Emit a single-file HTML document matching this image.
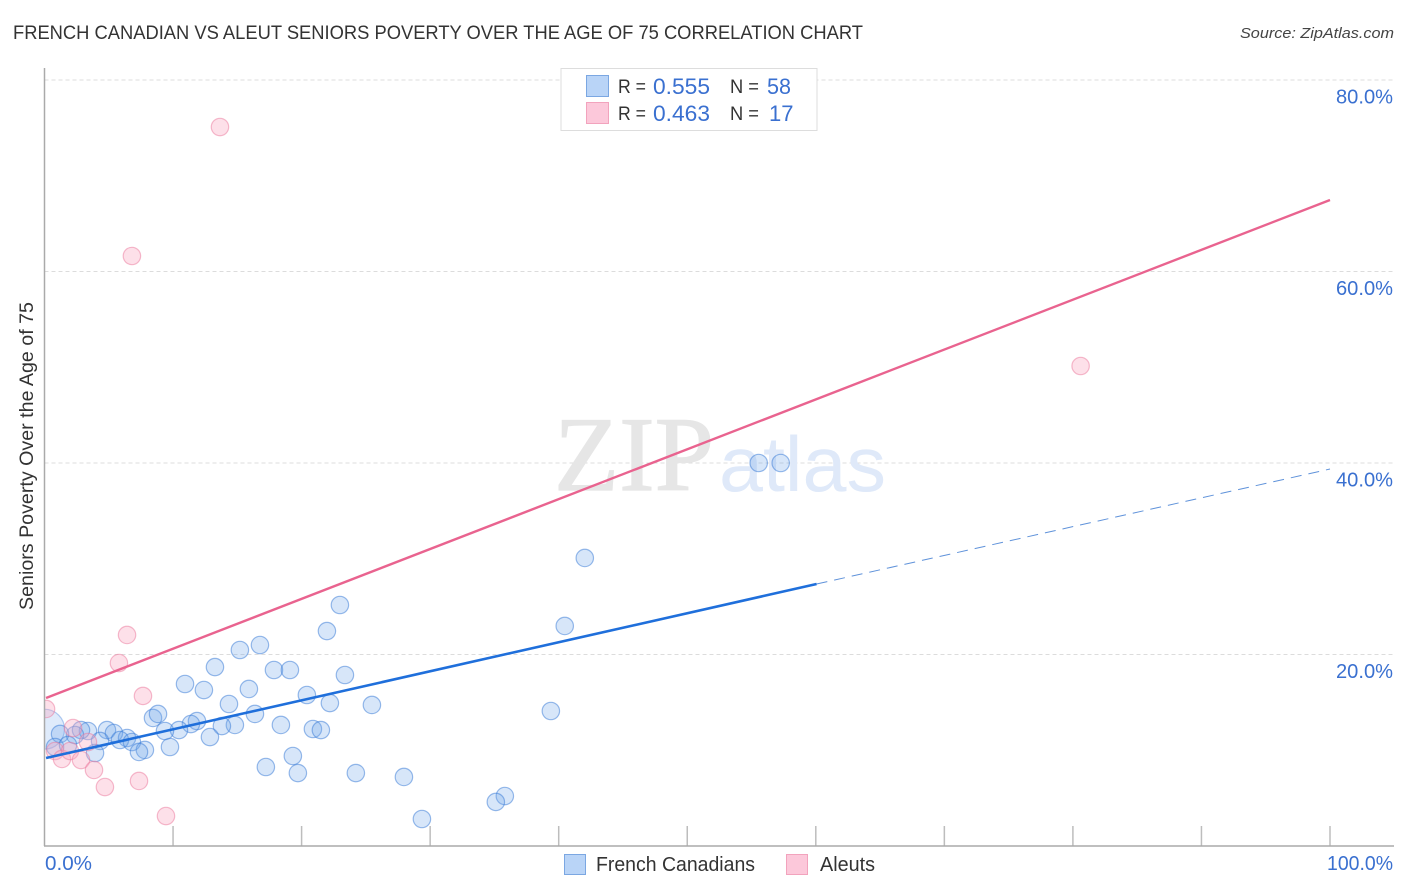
<!DOCTYPE html>
<html lang="en">
<head>
<meta charset="utf-8">
<title>French Canadian vs Aleut Seniors Poverty Over the Age of 75 Correlation Chart</title>
<style>
  html, body { margin: 0; padding: 0; background: #fff; }
  body { width: 1406px; height: 892px; overflow: hidden; }
  svg { display: block; font-family: "Liberation Sans", sans-serif; }
</style>
</head>
<body>
<svg id="chart" xmlns="http://www.w3.org/2000/svg" width="1406" height="892" viewBox="0 0 1406 892">
  <defs>
    <clipPath id="plot-clip"><rect x="44.5" y="60" width="1350" height="786"/></clipPath>
  </defs>
  <rect x="0" y="0" width="1406" height="892" fill="#ffffff"/>
  <text x="13" y="39" font-size="19" fill="#333" textLength="850" lengthAdjust="spacingAndGlyphs">FRENCH CANADIAN VS ALEUT SENIORS POVERTY OVER THE AGE OF 75 CORRELATION CHART</text>
  <text x="1394" y="38" font-size="15" font-style="italic" fill="#444" text-anchor="end" textLength="154" lengthAdjust="spacingAndGlyphs">Source: ZipAtlas.com</text>
  <g id="grid"></g>
  <g>
    <text x="554" y="490" font-family="'Liberation Serif', serif" font-size="106" fill="#e6e6e6" stroke="#e6e6e6" stroke-width="1.2" textLength="160" lengthAdjust="spacingAndGlyphs">ZIP</text>
    <text x="719" y="491" font-size="78" fill="#dfe9f9" textLength="167" lengthAdjust="spacingAndGlyphs">atlas</text>
  </g>
  <g id="points" clip-path="url(#plot-clip)"></g>
  <g id="trends"></g>
  <g id="axes"></g>
  <text transform="translate(33 456) rotate(-90)" font-size="19" fill="#333" text-anchor="middle" textLength="308" lengthAdjust="spacingAndGlyphs">Seniors Poverty Over the Age of 75</text>

  <g>
    <rect x="561" y="68.5" width="256" height="62" fill="#fff" stroke="#ddd" stroke-width="1"/>
    <rect x="586.5" y="75.5" width="22" height="21" fill="#b9d4f7" stroke="#7ba7e2" stroke-width="1"/>
    <rect x="586.5" y="102.5" width="22" height="21" fill="#fcc8da" stroke="#f2a3bd" stroke-width="1"/>
    <text x="618" y="93" font-size="19" fill="#333" textLength="28" lengthAdjust="spacingAndGlyphs">R =</text>
    <text x="653" y="94" font-size="22" fill="#3a70d0" textLength="57" lengthAdjust="spacingAndGlyphs">0.555</text>
    <text x="730" y="93" font-size="19" fill="#333" textLength="29" lengthAdjust="spacingAndGlyphs">N =</text>
    <text x="767" y="94" font-size="22" fill="#3a70d0" textLength="24" lengthAdjust="spacingAndGlyphs">58</text>
    <text x="618" y="120" font-size="19" fill="#333" textLength="28" lengthAdjust="spacingAndGlyphs">R =</text>
    <text x="653" y="121" font-size="22" fill="#3a70d0" textLength="57" lengthAdjust="spacingAndGlyphs">0.463</text>
    <text x="730" y="120" font-size="19" fill="#333" textLength="29" lengthAdjust="spacingAndGlyphs">N =</text>
    <text x="769" y="121" font-size="22" fill="#3a70d0">17</text>
  </g>

  <g>
    <rect x="564.5" y="854.5" width="21" height="20" fill="#b9d4f7" stroke="#7ba7e2" stroke-width="1"/>
    <text x="596" y="871" font-size="20" fill="#333" textLength="159" lengthAdjust="spacingAndGlyphs">French Canadians</text>
    <rect x="786.5" y="854.5" width="21" height="20" fill="#fcc8da" stroke="#f2a3bd" stroke-width="1"/>
    <text x="820" y="871" font-size="20" fill="#333" textLength="55" lengthAdjust="spacingAndGlyphs">Aleuts</text>
  </g>
</svg>
<script>
const yTickValues = [20, 40, 60, 80];
const yTickLabels = ["20.0%", "40.0%", "60.0%", "80.0%"];
const xTickValues = [10, 20, 30, 40, 50, 60, 70, 80, 90, 100];
const xEndValues = [0, 100];
const xEndLabels = ["0.0%", "100.0%"];

const frenchCanadianX = [42.03, 55.56, 57.27, 22.98, 21.97, 40.47, 16.76, 15.2, 13.26, 17.85, 19.09, 23.37, 10.93, 12.4, 15.9, 20.41, 22.2, 14.35, 25.47, 39.39, 16.37, 8.44, 8.83, 11.86, 11.39, 18.39, 14.81, 13.8, 20.88, 21.5, 10.46, 9.37, 4.86, 3.38, 2.84, 5.4, 6.42, 5.87, 6.8, 2.37, 1.21, 4.32, 12.87, 7.81, 7.35, 9.76, 3.93, 0.82, 1.83, 19.32, 17.22, 19.71, 24.22, 27.96, 35.81, 35.11, 29.36];
const frenchCanadianY = [30.08, 40.0, 40.0, 25.17, 22.45, 22.98, 20.99, 20.47, 18.69, 18.38, 18.38, 17.86, 16.92, 16.29, 16.4, 15.77, 14.93, 14.83, 14.73, 14.1, 13.79, 13.37, 13.79, 13.05, 12.74, 12.64, 12.64, 12.53, 12.22, 12.11, 12.11, 12.01, 12.11, 12.01, 12.11, 11.8, 11.28, 11.07, 10.86, 11.59, 11.7, 10.97, 11.38, 10.03, 9.82, 10.34, 9.71, 10.34, 10.55, 9.4, 8.25, 7.62, 7.62, 7.21, 5.22, 4.6, 2.82];
const frenchCanadianLargeX = [0.0];
const frenchCanadianLargeY = [12.2];

const aleutX = [13.65, 6.8, 80.6, 6.42, 5.79, 7.66, 0.12, 2.22, 3.38, 0.82, 1.36, 1.98, 2.84, 3.85, 4.7, 7.35, 9.45];
const aleutY = [75.09, 61.62, 50.13, 22.04, 19.11, 15.67, 14.31, 12.32, 10.86, 9.92, 9.09, 9.92, 8.98, 7.94, 6.16, 6.79, 3.13];

const frenchTrendX = [0.12, 60.06];
const frenchTrendY = [9.19, 27.36];
const frenchExtensionX = [60.06, 100];
const frenchExtensionY = [27.36, 39.37];
const aleutTrendX = [0.12, 100];
const aleutTrendY = [15.46, 67.47];

const SVG_NS = "http://www.w3.org/2000/svg";
const scaleX = function (v) { return 44.5 + v * 12.855; };
const scaleY = function (v) { return 846 - v * 9.575; };

function make(tag, parent, attrs) {
  const el = document.createElementNS(SVG_NS, tag);
  Object.keys(attrs).forEach(function (k) { el.setAttribute(k, attrs[k]); });
  parent.appendChild(el);
  return el;
}

const gridGroup = document.getElementById("grid");
const axesGroup = document.getElementById("axes");
const pointsGroup = document.getElementById("points");
const trendsGroup = document.getElementById("trends");

yTickValues.forEach(function (v, i) {
  const line = make("line", gridGroup, { x1: 44.5, x2: 1394, y1: scaleY(v), y2: scaleY(v), stroke: "#dcdcdc", "stroke-width": 1, "stroke-dasharray": "4 3" });
  
  
  const label = make("text", axesGroup, { x: 1393, y: scaleY(v) + 23.5, "font-size": 20, fill: "#3a70d0", "text-anchor": "end", textLength: 57, lengthAdjust: "spacingAndGlyphs" });
  label.textContent = yTickLabels[i];
  
  
});

xTickValues.forEach(function (v) {
  const tick = make("line", axesGroup, { x1: scaleX(v), x2: scaleX(v), y1: 826, y2: 846, stroke: "#bdbdbd", "stroke-width": 1.5 });
  
  
});

const yAxisLine = make("line", axesGroup, { x1: 44.5, x2: 44.5, y1: 68, y2: 846, stroke: "#aaaaaa", "stroke-width": 1.5 });


const xAxisLine = make("line", axesGroup, { x1: 44, x2: 1394, y1: 846, y2: 846, stroke: "#aaaaaa", "stroke-width": 1.5 });



const xEndAttrs = [
  { x: 45, anchor: "start", len: 47 },
  { x: 1393, anchor: "end", len: 66 }
];
xEndValues.forEach(function (v, i) {
  const label = make("text", axesGroup, { x: xEndAttrs[i].x, y: 870, "font-size": 20, fill: "#3a70d0", "text-anchor": xEndAttrs[i].anchor, textLength: xEndAttrs[i].len, lengthAdjust: "spacingAndGlyphs" });
  label.textContent = xEndLabels[i];
  
  
});

function drawPoint(x, y, r, fill, stroke) {
  return make("circle", pointsGroup, { cx: scaleX(x), cy: scaleY(y), r: r, fill: fill, stroke: stroke, "stroke-width": 1.2 });
}

frenchCanadianLargeX.forEach(function (x, i) {
  const dot = drawPoint(x, frenchCanadianLargeY[i], 20, "rgba(110,165,235,0.22)", "rgba(70,130,220,0.4)");
  
  
});
frenchCanadianX.forEach(function (x, i) {
  const dot = drawPoint(x, frenchCanadianY[i], 8.7, "rgba(110,165,235,0.28)", "rgba(60,125,215,0.52)");
  
  
});
aleutX.forEach(function (x, i) {
  const dot = drawPoint(x, aleutY[i], 8.7, "rgba(250,170,195,0.36)", "rgba(235,120,155,0.5)");
  
  
});

const aleutLine = make("line", trendsGroup, { x1: scaleX(aleutTrendX[0]), y1: scaleY(aleutTrendY[0]), x2: scaleX(aleutTrendX[1]), y2: scaleY(aleutTrendY[1]), stroke: "#e9638f", "stroke-width": 2.4 });


const frenchLine = make("line", trendsGroup, { x1: scaleX(frenchTrendX[0]), y1: scaleY(frenchTrendY[0]), x2: scaleX(frenchTrendX[1]), y2: scaleY(frenchTrendY[1]), stroke: "#1f6fdb", "stroke-width": 2.6 });


const frenchExtension = make("line", trendsGroup, { x1: scaleX(frenchExtensionX[0]), y1: scaleY(frenchExtensionY[0]), x2: scaleX(frenchExtensionX[1]), y2: scaleY(frenchExtensionY[1]), stroke: "#5f92da", "stroke-width": 1, "stroke-dasharray": "11 7" });


</script>
</body>
</html>
